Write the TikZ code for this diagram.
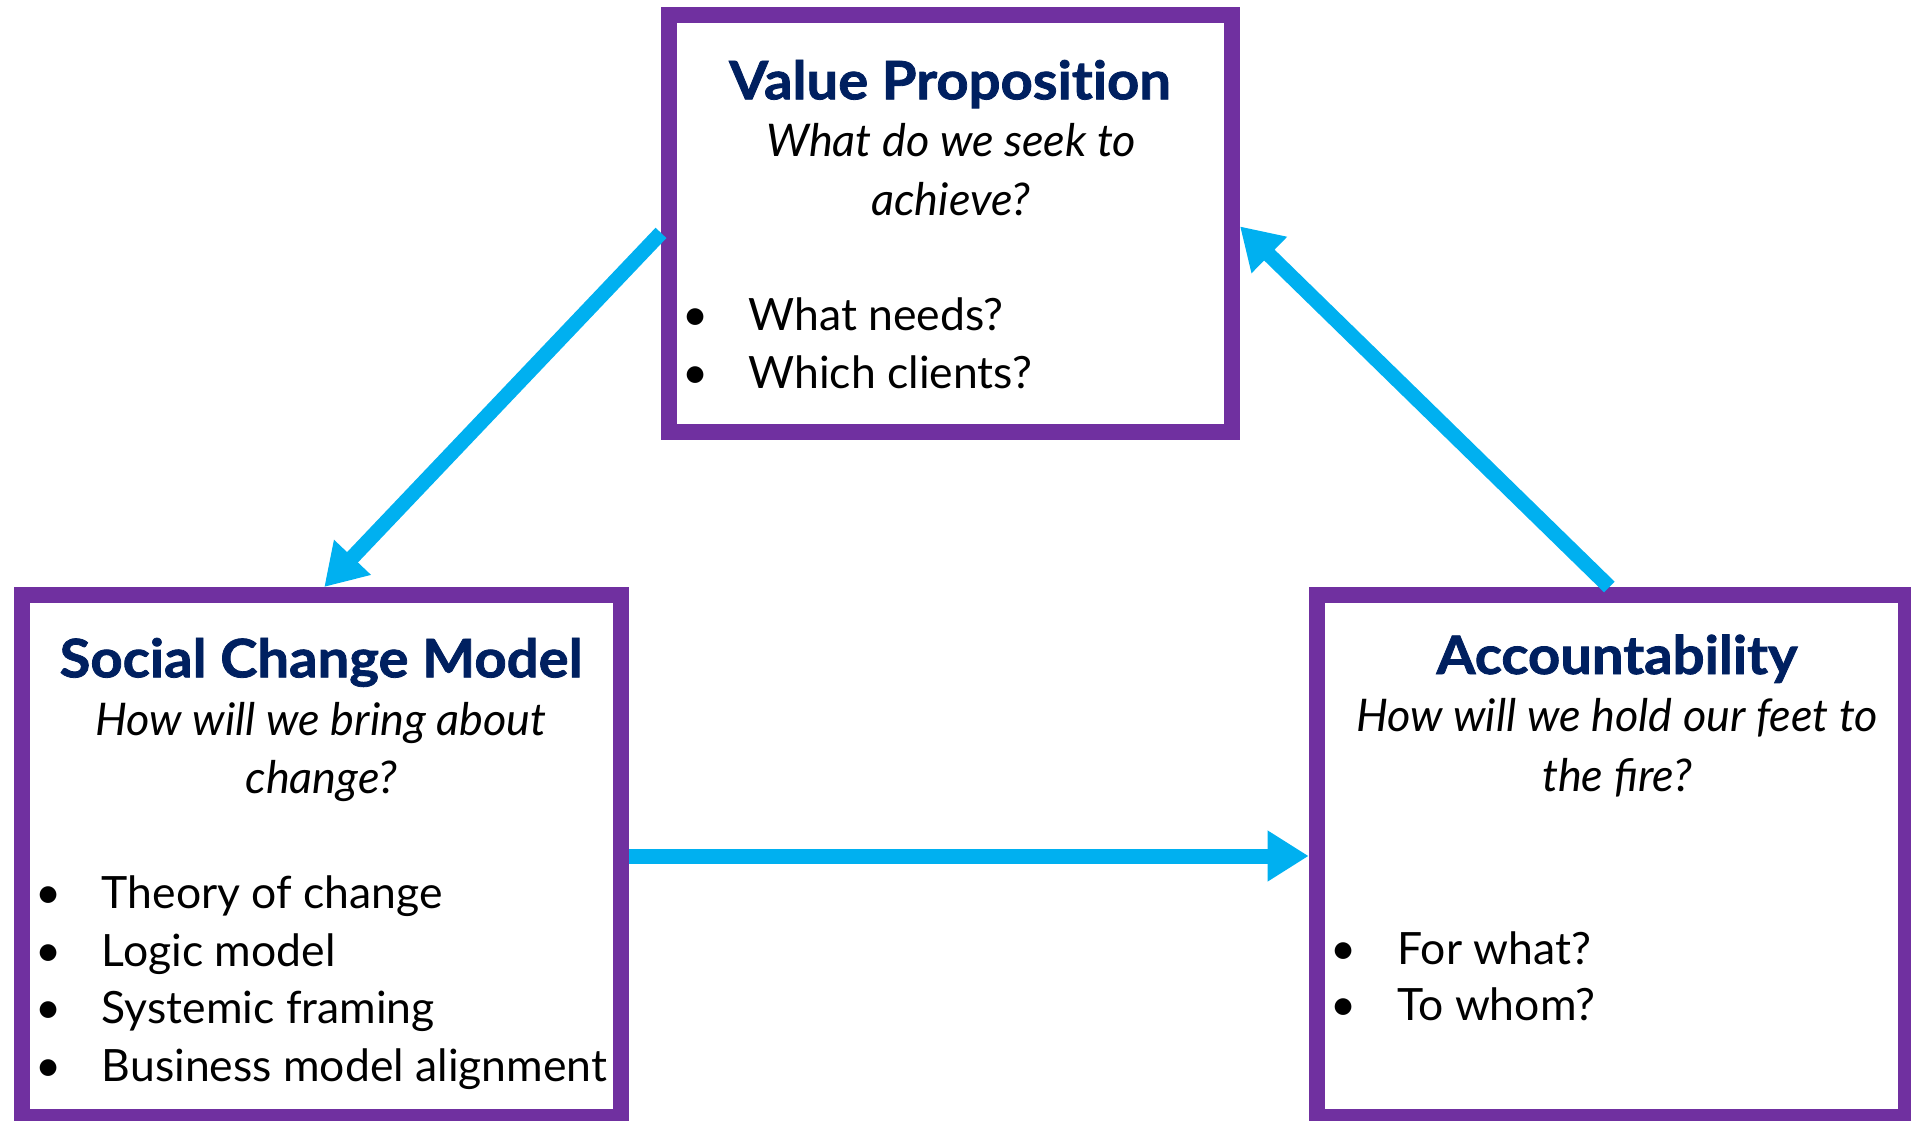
\documentclass[tikz,border=0pt]{standalone}
\usepackage{fontspec}
\setmainfont{Lato}
\newfontfamily\ttlfont{Lato}[FakeStretch=1.06,FakeBold=1.5,Ligatures=NoCommon]
\usetikzlibrary{arrows.meta}
\definecolor{boxpurple}{HTML}{7030A0}
\definecolor{titlenavy}{HTML}{002060}
\definecolor{arrowcyan}{HTML}{00B0F0}
\tikzset{
  panel/.style={draw=boxpurple, line width=16pt, fill=white, inner sep=0pt},
  ttl/.style={font=\ttlfont\fontsize{53}{60}\selectfont\bfseries, text=titlenavy, anchor=base, inner sep=0pt},
  qst/.style={font=\fontsize{45}{56}\selectfont\itshape, anchor=base, inner sep=0pt},
  dotb/.style={font=\fontsize{45}{56}\selectfont, anchor=base, inner sep=0pt},
  itm/.style={font=\fontsize{44.5}{56}\selectfont, anchor=base west, inner sep=0pt},
  conn/.style={draw=arrowcyan, line width=15pt, -{Triangle[width=48pt,length=41pt]}}
}
\begin{document}
\begin{tikzpicture}[x=1pt,y=-1pt]
\useasboundingbox (0,0) rectangle (1911,1121);
% boxes
\node[panel, minimum width=563pt, minimum height=417pt] (vp) at (950.5,223.4) {};
\node[panel, minimum width=599.5pt, minimum height=522pt] (scm) at (321.25,856) {};
\node[panel, minimum width=589.3pt, minimum height=522pt] (acc) at (1611.35,856) {};
% value proposition
\node[ttl] (vpt) at (950,99.3) {Value Proposition};
\node[qst] (vpq1) at (951,156.7) {What do we seek to};
\node[qst] (vpq2) at (951,215) {achieve?};
\node[dotb] (vpd1) at (695.7,330) {•};
\node[itm] (vpi1) at (748.3,330) {What needs?};
\node[dotb] (vpd2) at (695.7,388.3) {•};
\node[itm] (vpi2) at (748.3,388.3) {Which clients?};
% social change model
\node[ttl] (scmt) at (321,677.3) {Social Change Model};
\node[qst] (scmq1) at (321,735) {How will we bring about};
\node[qst] (scmq2) at (321.5,793.3) {change?};
\node[dotb] (scmd1) at (49,908.3) {•};
\node[itm] (scmi1) at (101.7,908.3) {Theory of change};
\node[dotb] (scmd2) at (49,966.7) {•};
\node[itm] (scmi2) at (101.7,966.7) {Logic model};
\node[dotb] (scmd3) at (49,1023.3) {•};
\node[itm] (scmi3) at (101.7,1023.3) {Systemic framing};
\node[dotb] (scmd4) at (49,1081.7) {•};
\node[itm] (scmi4) at (101.7,1081.7) {Business model alignment};
% accountability
\node[ttl] (acct) at (1617,674) {Accountability};
\node[qst] (accq1) at (1617,731.7) {How will we hold our feet to};
\node[qst] (accq2) at (1617,791.7) {the fire?};
\node[dotb] (accd1) at (1344,964.3) {•};
\node[itm] (acci1) at (1397.3,964.3) {For what?};
\node[dotb] (accd2) at (1344,1020) {•};
\node[itm] (acci2) at (1397.3,1020) {To whom?};
% connectors
\draw[conn] ([yshift=-9.5pt]vp.west) -- ([xshift=3pt]scm.north);
\draw[conn] ([xshift=-2pt]acc.north) -- ([yshift=-3pt]vp.east);
\draw[conn] (scm.east) -- (acc.west);
\end{tikzpicture}
\end{document}
